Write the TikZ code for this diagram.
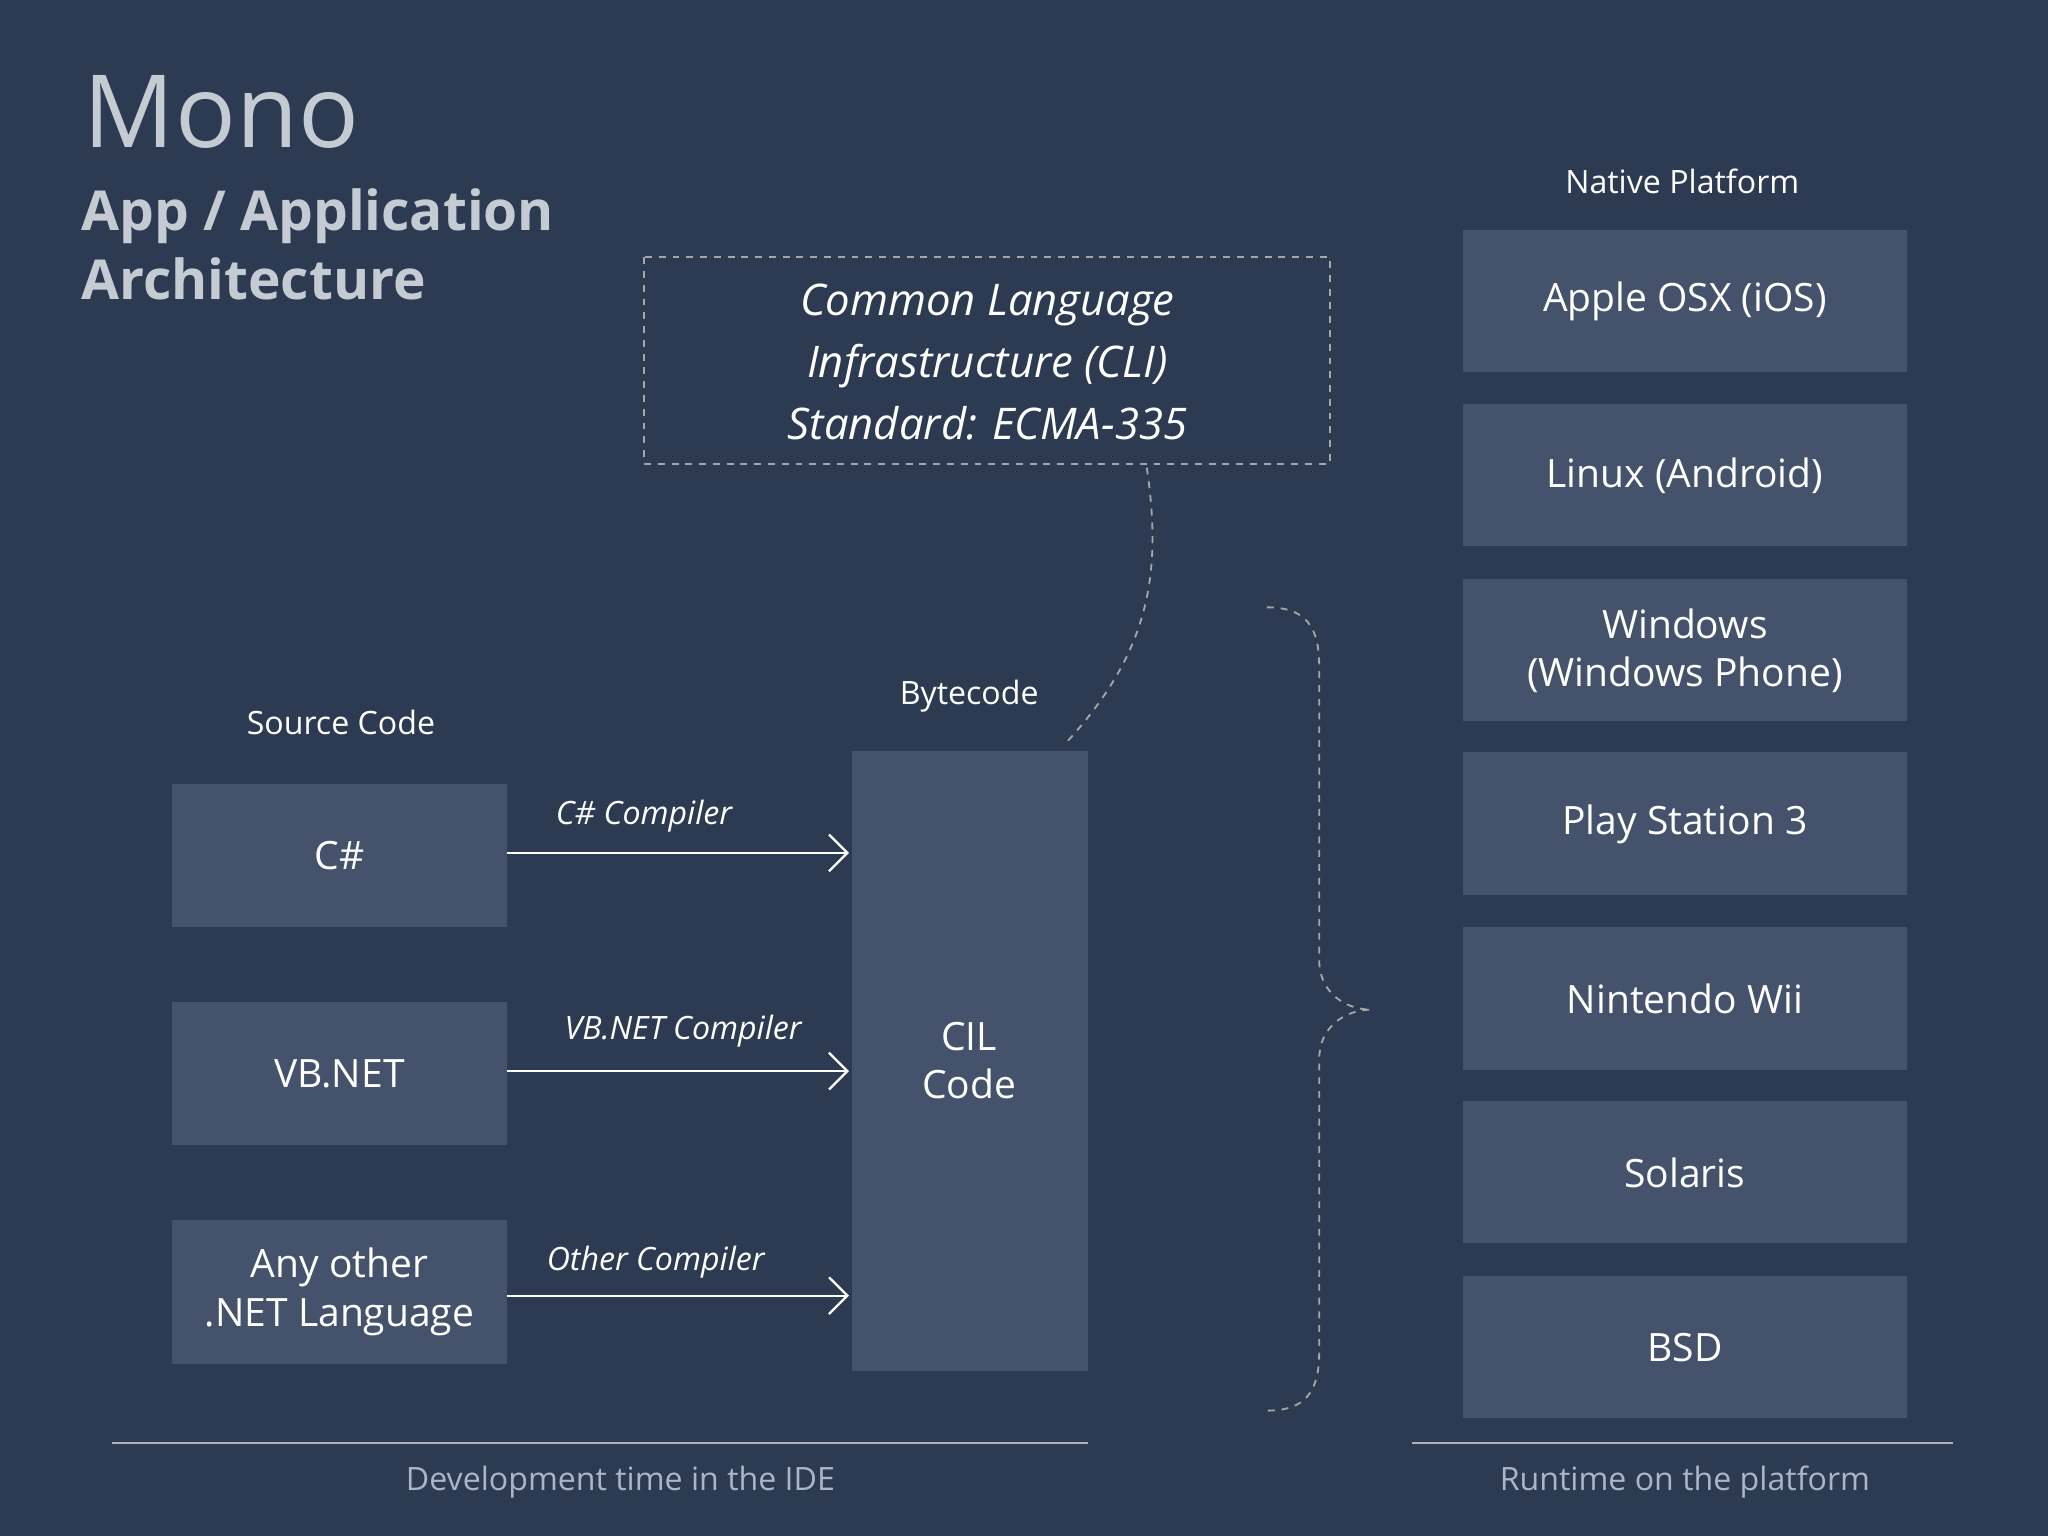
\documentclass[tikz,border=0pt]{standalone}
\usepackage{fontspec}
\setmainfont{Open Sans}
\usetikzlibrary{arrows.meta}
\definecolor{bg}{HTML}{2C3B51}
\definecolor{bx}{HTML}{44536B}
\definecolor{tg}{HTML}{C5CBD3}
\definecolor{bt}{HTML}{A9B6C6}
\begin{document}
\begin{tikzpicture}[x=0.02cm,y=-0.02cm,
 box/.style={fill=bx,draw=none,text=white,align=center,font=\fontsize{17}{21}\selectfont},
 lab/.style={text=white,font=\fontsize{14}{17}\selectfont},
 comp/.style={text=white,font=\itshape\fontsize{14}{17}\selectfont,anchor=south},
 arr/.style={draw=white,line width=1pt,-{Straight Barb[length=8pt,width=16pt]}},
 dsh/.style={draw=gray!70,dashed,line width=0.8pt}]
\fill[bg] (0,0) rectangle (1568,1176);
\useasboundingbox (0,0) rectangle (1568,1176);
\node[anchor=west,text=tg,font=\fontsize{44}{50}\selectfont] (mono) at (58,86) {Mono};
\node[anchor=north west,text=tg,align=left,font=\bfseries\fontsize{24}{30}\selectfont] (sub) at (56,138) {App / Application\\Architecture};
% left boxes
\node[box,minimum width=256\pgflinewidth] (cs) at (260,655) {};
\path[fill=bx] (132,600) rectangle (388,710);
\node[box,fill=none] (csn) at (260,655) {C\#};
\path[fill=bx] (132,767) rectangle (388,877);
\node[box,fill=none] (vb) at (260,822) {VB.NET};
\path[fill=bx] (132,934) rectangle (388,1044);
\node[box,fill=none] (oth) at (260,989) {Any other\\.NET Language};
\path[fill=bx] (652,575) rectangle (833,1050);
\node[box,fill=none] (cil) at (742,812) {CIL\\Code};
\node[lab] (src) at (261,553) {Source Code};
\node[lab] (byte) at (742,533) {Bytecode};
\coordinate (a1) at (388,653); \coordinate (b1) at (650,653);
\coordinate (a2) at (388,820); \coordinate (b2) at (650,820);
\coordinate (a3) at (388,992); \coordinate (b3) at (650,992);
\draw[arr] (a1) -- (b1);
\draw[arr] (a2) -- (b2);
\draw[arr] (a3) -- (b3);
\node[comp] (c1) at (493,643) {C\# Compiler};
\node[comp] (c2) at (523,808) {VB.NET Compiler};
\node[comp] (c3) at (502,985) {Other Compiler};
% CLI
\draw[dsh] (493,197) rectangle (1018,355);
\node[text=white,align=center,font=\itshape\fontsize{19}{27}\selectfont] (cli) at (756,277) {Common Language\\Infrastructure (CLI)\\Standard: ECMA-335};
\coordinate (ct) at (878,358); \coordinate (cb) at (815,570);
\draw[dsh] (ct) .. controls (890,440) and (880,500) .. (cb);
% brace
\draw[dsh] (970,465) .. controls (1000,465) and (1010,480) .. (1010,510) -- (1010,735) .. controls (1010,760) and (1030,773) .. (1050,773) .. controls (1030,773) and (1010,786) .. (1010,811) -- (1010,1035) .. controls (1010,1065) and (1000,1080) .. (970,1080);
% right
\node[lab] (np) at (1288,139) {Native Platform};
\foreach \n/\y/\t in {r1/176/Apple OSX (iOS),r2/309/Linux (Android),r3/443/{Windows\\(Windows Phone)},r4/576/Play Station 3,r5/710/Nintendo Wii,r6/843/Solaris,r7/977/BSD}{
  \path[fill=bx] (1120,\y) rectangle (1460,\y+109);
  \node[box,fill=none] (\n) at (1290,\y+55) {\t};
}
% bottom
\draw[gray!60,line width=0.8pt] (86,1105) -- (833,1105);
\draw[gray!60,line width=0.8pt] (1081,1105) -- (1495,1105);
\node[text=bt,font=\fontsize{14}{17}\selectfont] (d1) at (475,1135) {Development time in the IDE};
\node[text=bt,font=\fontsize{14}{17}\selectfont] (d2) at (1290,1135) {Runtime on the platform};
\end{tikzpicture}
\end{document}
